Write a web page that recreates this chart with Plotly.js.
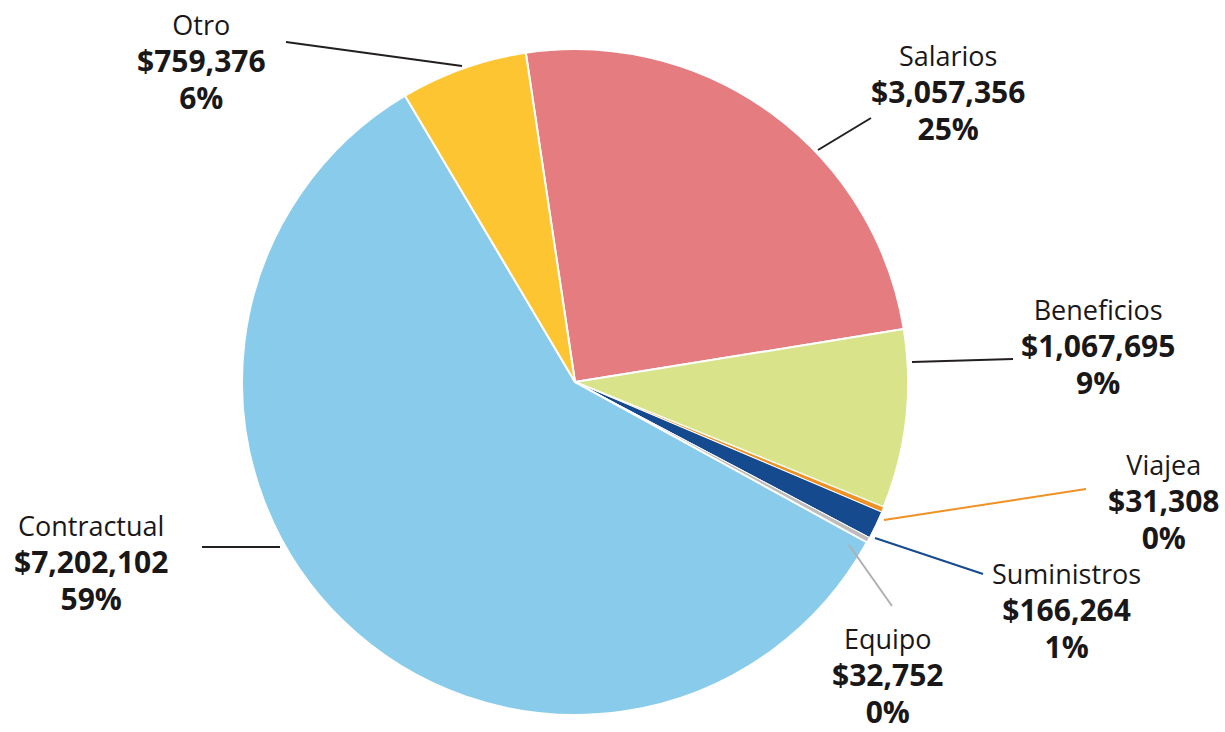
<!DOCTYPE html>
<html>
<head>
<meta charset="utf-8">
<script src="https://cdn.plot.ly/plotly-3.0.1.min.js"></script>
<style>html,body{margin:0;padding:0;background:#fff;}#chart{width:1225px;height:732px;}</style>
</head>
<body>
<div id="chart"></div>
<script>
// Data
const categories = ["Salarios", "Beneficios", "Viajea", "Suministros", "Equipo", "Contractual", "Otro"];
const amounts = [3057356, 1067695, 31308, 166264, 32752, 7202102, 759376];
const percentLabels = [25, 9, 0, 1, 0, 59, 6];
const sliceColors = ["#E47C80", "#D8E38A", "#EF9124", "#164A8F", "#BDBDBD", "#89CBEB", "#FEC532"];

// Layout helpers (pixel -> paper)
const W = 1225, H = 732;
const M = {l: 242, r: 317, t: 49, b: 17};
const PW = W - M.l - M.r, PH = H - M.t - M.b;
const px = x => (x - M.l) / PW;
const py = y => 1 - (y - M.t) / PH;

// Label placement (layout), per category: block center x, middle-line center y
const labelPos = {
  "Otro":        {x: 201,  y: 62},
  "Salarios":    {x: 948,  y: 93},
  "Beneficios":  {x: 1098, y: 347},
  "Viajea":      {x: 1163, y: 502},
  "Suministros": {x: 1066, y: 611},
  "Equipo":      {x: 887,  y: 676},
  "Contractual": {x: 91,   y: 563}
};
// Leader lines (layout), pixel endpoints and colour
const leaders = {
  "Otro":        {p: [286, 42, 462, 66],   c: "#231F20"},
  "Salarios":    {p: [871, 118, 818, 150], c: "#231F20"},
  "Beneficios":  {p: [912, 362, 1013, 359], c: "#231F20"},
  "Viajea":      {p: [884, 520, 1086, 489], c: "#EF9124"},
  "Suministros": {p: [875, 538, 983, 574], c: "#164A8F"},
  "Equipo":      {p: [849, 545, 892, 606], c: "#B0B0B0"},
  "Contractual": {p: [202, 547, 280, 547], c: "#231F20"}
};

const FONT = "Open Sans, Noto Sans, sans-serif";
const annotations = [];
const shapes = [];
categories.forEach((name, i) => {
  const lp = labelPos[name];
  const text =
    '<span style="font-size:27px">' + name + '</span><br>' +
    '<span style="font-size:30px"><b>$' + amounts[i].toLocaleString("en-US") + '</b></span><br>' +
    '<span style="font-size:30px"><b>' + percentLabels[i] + '%</b></span>';
  annotations.push({
    xref: "paper", yref: "paper", x: px(lp.x), y: py(lp.y),
    xanchor: "center", yanchor: "middle", align: "center", showarrow: false,
    text: text, font: {family: FONT, size: 28.5, color: "#1A1718"}
  });
  const L = leaders[name];
  shapes.push({
    type: "line", xref: "paper", yref: "paper",
    x0: px(L.p[0]), y0: py(L.p[1]), x1: px(L.p[2]), y1: py(L.p[3]),
    line: {color: L.c, width: 2}
  });
});

const trace = {
  type: "pie",
  labels: categories,
  values: amounts,
  sort: false,
  direction: "clockwise",
  rotation: -8.5,
  textinfo: "none",
  hoverinfo: "label+value+percent",
  marker: {colors: sliceColors, line: {color: "#FFFFFF", width: [2, 2, 1, 1, 1, 2, 2]}},
  domain: {x: [0, 1], y: [0, 1]}
};

const layout = {
  width: W, height: H,
  margin: M,
  paper_bgcolor: "#FFFFFF",
  plot_bgcolor: "#FFFFFF",
  showlegend: false,
  annotations: annotations,
  shapes: shapes,
  font: {family: FONT}
};

Plotly.newPlot("chart", [trace], layout, {displayModeBar: false, staticPlot: true});
</script>
</body>
</html>
